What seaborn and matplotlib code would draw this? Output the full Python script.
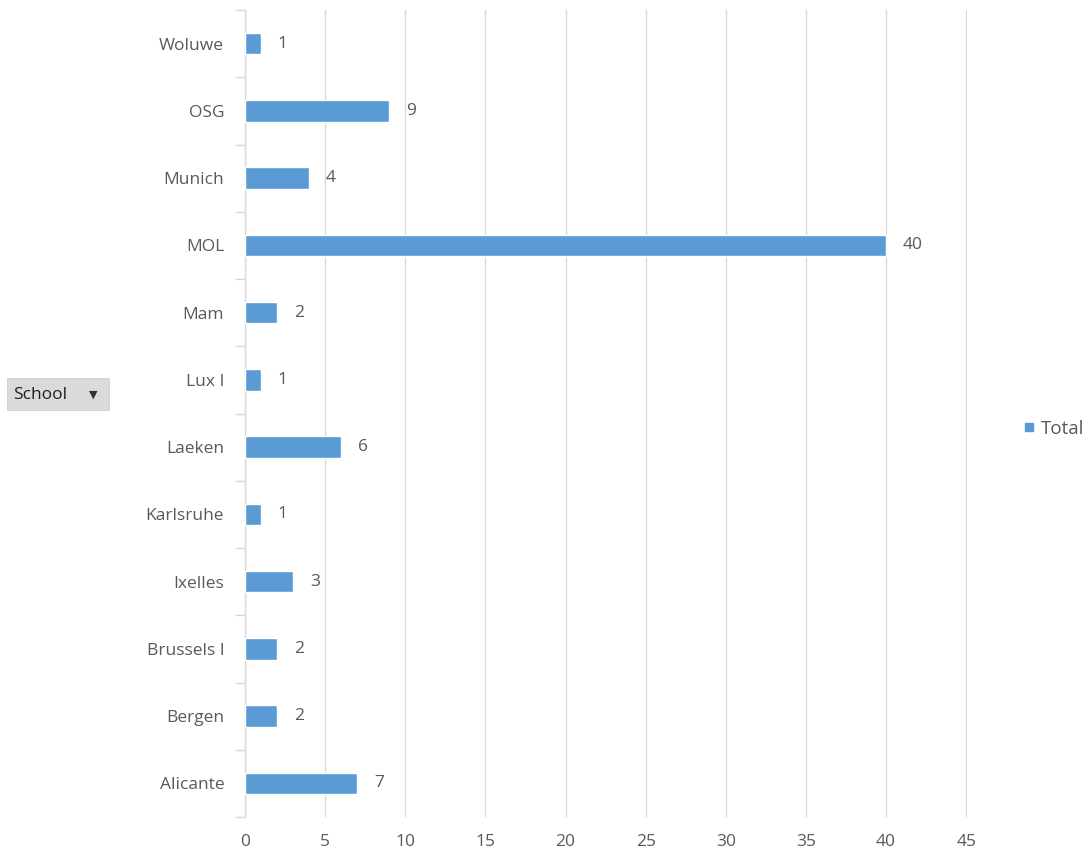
import matplotlib
matplotlib.use("Agg")
import matplotlib.pyplot as plt
from matplotlib.lines import Line2D
from matplotlib.patches import Rectangle
import seaborn as sns
import pandas as pd

schools = ["Woluwe", "OSG", "Munich", "MOL", "Mam", "Lux I", "Laeken",
           "Karlsruhe", "Ixelles", "Brussels I", "Bergen", "Alicante"]
totals = [1, 9, 4, 40, 2, 1, 6, 1, 3, 2, 2, 7]
x_ticks = [0, 5, 10, 15, 20, 25, 30, 35, 40, 45]

BAR = "#5B9BD5"
TXT = "#595959"
GRID = "#D9D9D9"
FS = 12.5

sns.set_theme(style="white")
plt.rcParams["font.family"] = ["Open Sans", "DejaVu Sans"]

df = pd.DataFrame({"School": schools, "Total": totals})

fig = plt.figure(figsize=(10.92, 8.59), dpi=100)
ax = fig.add_axes([245 / 1092, 1 - 817 / 859, (967 - 245) / 1092, (817 - 10) / 859])

sns.barplot(data=df, x="Total", y="School", order=schools, color=BAR,
            width=0.32, saturation=1, ax=ax, zorder=3)

ax.set_xlim(0, 45.05)
ax.set_ylim(len(schools) - 0.5, -0.5)
ax.set_xticks(x_ticks)
ax.set_xticklabels([str(t) for t in x_ticks])
ax.grid(axis="x", color=GRID, linewidth=1, zorder=0)
ax.set_xlabel("")
ax.set_ylabel("")

for s in ["top", "right", "bottom"]:
    ax.spines[s].set_visible(False)
ax.spines["left"].set_color(GRID)
ax.spines["left"].set_linewidth(1)

ax.tick_params(axis="x", length=0, pad=12, labelsize=FS, labelcolor=TXT)
ax.tick_params(axis="y", which="major", left=False, length=0, pad=15,
               labelsize=FS, labelcolor=TXT)
ax.set_yticks([i + 0.5 for i in range(-1, len(schools))], minor=True)
ax.tick_params(axis="y", which="minor", left=True, length=7, color=GRID, width=1)

for i, v in enumerate(totals):
    ax.annotate(str(v), xy=(v, i), xytext=(12, 0), textcoords="offset points",
                va="center", ha="left", fontsize=FS, color=TXT)

handle = Line2D([], [], marker="s", linestyle="none", markersize=6,
                markerfacecolor=BAR, markeredgecolor=BAR)
fig.legend([handle], ["Total"], loc="center left",
           bbox_to_anchor=(1022 / 1092, 1 - 429 / 859), frameon=False,
           fontsize=13.5, labelcolor=TXT, handlelength=0.7, handletextpad=0.3,
           borderpad=0, borderaxespad=0)

# Field button for the row field
fig.add_artist(Rectangle((7 / 1092, 1 - 410 / 859), 102 / 1092, 32 / 859,
                         transform=fig.transFigure, facecolor="#DADADA",
                         edgecolor="#CFCFCF", linewidth=0.6))
fig.text(13 / 1092, 1 - 395 / 859, "School", fontsize=FS, color="#1F1F1F",
         va="center", ha="left")
fig.text(93 / 1092, 1 - 395 / 859, "\u25BC", fontsize=8, color="#333333",
         va="center", ha="center", family="DejaVu Sans")

fig.savefig("out.png", dpi=100, facecolor="white")
